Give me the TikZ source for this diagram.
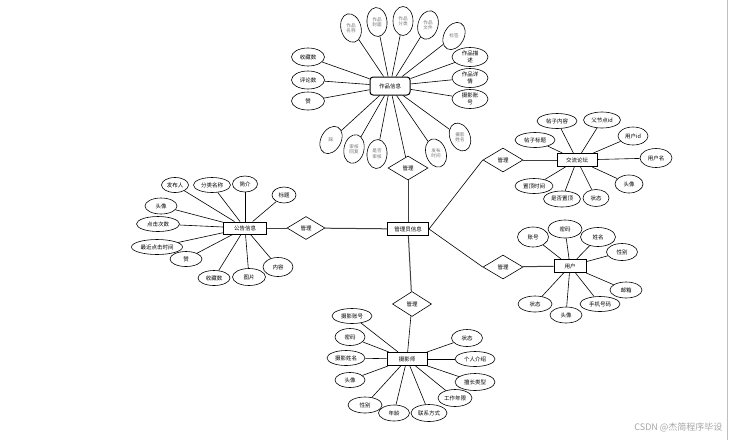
\documentclass[tikz,border=0pt]{standalone}
\usepackage{fontspec}
\newfontfamily\cjk{Noto Sans CJK SC}
\usetikzlibrary{shapes.geometric}
\begin{document}
\begin{tikzpicture}[x=1pt,y=-1pt,
  attr/.style={ellipse,draw,line width=0.6pt,inner sep=0pt,minimum width=32pt,minimum height=16pt,font=\cjk\fontsize{5.5}{6}\selectfont},
  tall/.style={ellipse,draw,line width=0.6pt,inner sep=0pt,minimum width=20pt,minimum height=29pt},
  talltext/.style={inner sep=0pt,align=center,text=black!55,font=\cjk\fontsize{4.6}{5.4}\selectfont},
  wide/.style={ellipse,draw,line width=0.6pt,inner sep=0pt,minimum width=36pt,minimum height=19pt,align=center,font=\cjk\fontsize{5.5}{6.5}\selectfont},
  ent/.style={rectangle,draw,line width=1pt,inner sep=0pt,minimum width=41pt,minimum height=13pt,font=\cjk\fontsize{5.5}{6}\selectfont},
  rel/.style={diamond,draw,line width=0.6pt,inner sep=0pt,minimum width=40pt,minimum height=24pt,font=\cjk\fontsize{5.5}{6}\selectfont},
  link/.style={line width=0.6pt},
  main/.style={line width=1pt,black!75}]
\useasboundingbox (0,0) rectangle (735,440);
\fill[white] (0,0) rectangle (735,440);
\draw[black!25,line width=0.8pt] (727.5,0) -- (727.5,440);

% ---------- works cluster ----------
\node[ent,rounded corners=3pt,minimum width=40pt,minimum height=18pt] (works) at (390,86) {作品信息};
\node[tall,rotate=15] (w1) at (351,28) {};
\node[talltext] (t1) at (w1.center) {作品\\名称};
\node[tall,rotate=5] (w2) at (377,22) {};
\node[talltext] (t2) at (w2.center) {作品\\封面};
\node[tall] (w3) at (403,21) {};
\node[talltext] (t3) at (w3.center) {作品\\分类};
\node[tall,rotate=-15] (w4) at (428,25) {};
\node[talltext] (t4) at (w4.center) {作品\\文件};
\node[tall,rotate=-28] (w5) at (454,36) {};
\node[talltext] (t5) at (w5.center) {标签};
\node[attr,minimum width=33pt,minimum height=18pt] (w6) at (308,57) {收藏数};
\node[attr,minimum width=33pt,minimum height=18pt] (w7) at (308,80) {评论数};
\node[attr,minimum width=33pt,minimum height=18pt] (w8) at (308,101) {赞};
\node[wide] (w9) at (470,57) {作品描\\述};
\node[wide] (w10) at (470,78) {作品详\\情};
\node[wide] (w11) at (470,99) {摄影账\\号};
\node[tall,rotate=-28] (w12) at (331,140) {};
\node[talltext] (t12) at (w12.center) {踩};
\node[tall,rotate=-12] (w13) at (354,149) {};
\node[talltext] (t13) at (w13.center) {审核\\回复};
\node[tall,rotate=-4] (w14) at (377,154) {};
\node[talltext] (t14) at (w14.center) {是否\\审核};
\node[tall,rotate=18] (w15) at (436,153) {};
\node[talltext] (t15) at (w15.center) {发布\\时间};
\node[tall,rotate=22] (w16) at (460,137) {};
\node[talltext] (t16) at (w16.center) {摄影\\姓名};
\foreach \i in {1,...,16} \draw[link] (w\i) -- (works);

% ---------- center ----------
\node[ent] (admin) at (408,229) {管理员信息};
\node[rel] (r1) at (408,168) {管理};
\node[rel,minimum width=38pt,minimum height=23pt] (r2) at (306,228) {管理};
\node[rel] (r3) at (503,160) {管理};
\node[rel] (r4) at (503,267) {管理};
\node[rel,minimum width=39pt,minimum height=25pt] (r5) at (412,304) {管理};

% ---------- notice cluster ----------
\node[ent,minimum width=43pt,minimum height=12pt] (notice) at (245,228) {公告信息};
\node[attr,minimum width=27pt,minimum height=15pt] (n1) at (175,185) {发布人};
\node[attr,minimum width=37pt,minimum height=15pt] (n2) at (212,185) {分类名称};
\node[attr,minimum width=25pt,minimum height=16pt] (n3) at (245,184) {简介};
\node[attr,minimum width=24pt,minimum height=16pt] (n4) at (284,195) {标题};
\node[attr] (n5) at (161,206) {头像};
\node[attr,minimum width=43pt,minimum height=15pt] (n6) at (158,224) {点击次数};
\node[attr,minimum width=51pt,minimum height=15pt] (n7) at (157,247) {最近点击时间};
\node[attr,minimum width=32pt,minimum height=15pt] (n8) at (186,259) {赞};
\node[attr,minimum width=32pt,minimum height=15pt] (n9) at (214,278) {收藏数};
\node[attr,minimum width=33pt,minimum height=17pt] (n10) at (249,277) {图片};
\node[attr,minimum width=30pt,minimum height=19pt] (n11) at (278,267) {内容};
\foreach \i in {1,...,11} \draw[link] (n\i) -- (notice);

% ---------- forum cluster ----------
\node[ent,minimum width=40pt,minimum height=13pt] (forum) at (577,160) {交流论坛};
\node[attr,minimum width=40pt,minimum height=15pt] (f1) at (557,121) {帖子内容};
\node[attr,minimum width=37pt,minimum height=16pt] (f2) at (602,120) {父节点id};
\node[attr,minimum width=30pt,minimum height=18pt] (f3) at (633,136) {用户id};
\node[attr,minimum width=32pt,minimum height=19pt] (f4) at (656,158) {用户名};
\node[attr,minimum width=28pt,minimum height=18pt] (f5) at (629,184) {头像};
\node[attr,minimum width=26pt,minimum height=17pt] (f6) at (596,198) {状态};
\node[attr,minimum width=37pt,minimum height=16pt] (f7) at (562,199) {是否置顶};
\node[attr,minimum width=38pt,minimum height=15pt] (f8) at (534,186) {置顶时间};
\node[attr,minimum width=40pt,minimum height=15pt] (f9) at (535,140) {帖子标题};
\foreach \i in {1,...,9} \draw[link] (f\i) -- (forum);

% ---------- user cluster ----------
\node[ent,minimum width=32pt,minimum height=13pt] (user) at (570,266) {用户};
\node[attr,minimum width=31pt,minimum height=20pt] (u1) at (533,237) {账号};
\node[attr,minimum width=34pt,minimum height=18pt] (u2) at (565,229) {密码};
\node[attr,minimum width=35pt,minimum height=19pt] (u3) at (598,237) {姓名};
\node[attr,minimum width=31pt,minimum height=17pt] (u4) at (622,252) {性别};
\node[attr,minimum width=32pt,minimum height=16pt] (u5) at (626,290) {邮箱};
\node[attr,minimum width=40pt,minimum height=15pt] (u6) at (600,304) {手机号码};
\node[attr,minimum width=32pt,minimum height=16pt] (u7) at (566,315) {头像};
\node[attr,minimum width=34pt,minimum height=16pt] (u8) at (535,304) {状态};
\foreach \i in {1,...,8} \draw[link] (u\i) -- (user);

% ---------- photographer cluster ----------
\node[ent,minimum width=40pt,minimum height=13pt] (photo) at (407,359) {摄影师};
\node[attr,minimum width=40pt,minimum height=15pt] (p1) at (352,316) {摄影账号};
\node[attr,minimum width=30pt,minimum height=17pt] (p2) at (350,337) {密码};
\node[attr,minimum width=38pt,minimum height=15pt] (p3) at (346,358) {摄影姓名};
\node[attr,minimum width=30pt,minimum height=15pt] (p4) at (350,380) {头像};
\node[attr,minimum width=34pt,minimum height=16pt] (p5) at (365,405) {性别};
\node[attr,minimum width=31pt,minimum height=16pt] (p6) at (394,413) {年龄};
\node[attr,minimum width=36pt,minimum height=17pt] (p7) at (429,413) {联系方式};
\node[attr,minimum width=34pt,minimum height=17pt] (p8) at (455,398) {工作年限};
\node[attr,minimum width=40pt,minimum height=17pt] (p9) at (475,382) {擅长类型};
\node[attr,minimum width=40pt,minimum height=15pt] (p10) at (475,359) {个人介绍};
\node[attr,minimum width=31pt,minimum height=17pt] (p11) at (467,338) {状态};
\foreach \i in {1,...,11} \draw[link] (p\i) -- (photo);

% ---------- relationship links ----------
\draw[main] (admin) -- (r1);
\draw[link] (r1) -- (works);
\draw[main] (admin) -- (r2);
\draw[main] (r2) -- (notice);
\draw[link] (admin.east) -- (r3.west);
\draw[main] (r3) -- (forum);
\draw[link] (admin.east) -- (r4.west);
\draw[main] (r4) -- (user);
\draw[main] (admin) -- (r5);
\draw[link] (r5) -- (photo);

\node[font=\cjk\fontsize{9}{10}\selectfont,text=black!35,anchor=east] (wm) at (726,427) {CSDN @杰简程序毕设};
\end{tikzpicture}
\end{document}
